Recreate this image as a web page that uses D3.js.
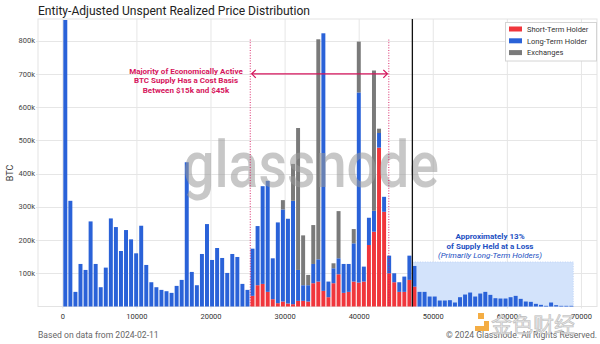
<!DOCTYPE html>
<html>
<head>
<meta charset="utf-8">
<script src="https://cdn.jsdelivr.net/npm/d3@7"></script>
<style>
  body { margin: 0; background: #fff; }
  svg { display: block; font-family: Roboto, "Liberation Sans", sans-serif; }
</style>
</head>
<body>
<svg id="chart"></svg>
<script>
// Supply per realized-price bin, thousands of BTC
const shortTerm = [
  0, 0, 0, 0, 0, 0, 0, 0, 0, 0, 0, 0, 0, 0, 0, 0, 0, 0, 0, 0,
  0, 0, 0, 0, 0, 0, 0, 0, 0, 0, 0, 0, 0, 0, 0, 0, 0,
  32, 64, 68, 44, 22, 10, 15, 9, 7, 17, 17, 15, 70, 75, 47, 28, 70, 97, 41, 44,
  75, 72, 75, 185, 225, 478, 285, 100, 73, 44, 44, 80, 60,
  0, 0, 0, 0, 0, 0, 0, 0, 0, 0, 0, 0, 0, 0, 0, 0, 0, 0, 0, 0,
  0, 0, 0, 0, 0, 0, 0, 0, 0, 0, 0
];
const longTerm = [
  862, 318, 44, 128, 110, 256, 128, 58, 117, 265, 239, 167, 230, 202, 160, 243, 125, 73, 58, 50,
  46, 41, 62, 80, 434, 104, 64, 158, 248, 140, 176, 146, 101, 158, 149, 68, 50,
  142, 178, 294, 334, 123, 243, 277, 255, 311, 93, 47, 49, 58, 67, 775, 47, 45, 48, 87, 84,
  115, 572, 45, 82, 63, 44, 45, 53, 27, 29, 46, 73, 62,
  44, 44, 30, 30, 18, 18, 19, 12, 28, 36, 42, 30, 39, 44, 35, 25, 24, 24, 28, 32,
  23, 15, 14, 8, 5, 2, 12, 4, 2, 2, 2
];
const exchanges = [
  0, 0, 0, 0, 0, 0, 0, 0, 0, 0, 0, 0, 0, 0, 0, 0, 0, 0, 0, 0,
  0, 0, 0, 0, 0, 0, 0, 0, 0, 0, 0, 0, 0, 0, 0, 0, 0,
  0, 0, 0, 0, 0, 0, 28, 0, 111, 427, 150, 31, 117, 662, 0, 0, 15, 142, 0, 0,
  43, 153, 0, 0, 422, 13, 0, 0, 0, 0, 0, 0, 0,
  0, 0, 0, 0, 0, 0, 0, 0, 0, 0, 0, 0, 0, 0, 0, 0, 0, 0, 0, 0,
  0, 0, 0, 0, 0, 0, 0, 0, 0, 0, 0
];
const binWidth = 683;   // USD per bin
const xTicks = [0, 10000, 20000, 30000, 40000, 50000, 60000, 70000];
const yTicks = [100000, 200000, 300000, 400000, 500000, 600000, 700000, 800000];
const seriesNames = ["Short-Term Holder", "Long-Term Holder", "Exchanges"];
const seriesColors = ["#f0363c", "#2a62d8", "#7a7a7a"];
const currentPrice = 47180;
const costBasisBand = [25300, 44000];
const costBasisArrowAt = 700000;
const lossZone = { from: 47180, to: 68900, top: 134000 };

const W = 600, H = 344;
const plot = { left: 38, right: 597, top: 19, bottom: 306.5 };

const svg = d3.select("#chart").attr("width", W).attr("height", H);

const x = d3.scaleLinear().domain([-3350, 72100]).range([plot.left, plot.right]);
const y = d3.scaleLinear().domain([0, 865000]).range([plot.bottom, plot.top]);

const rows = shortTerm.map((d, i) => ({
  price: i * binWidth,
  sth: d * 1000,
  lth: longTerm[i] * 1000,
  exch: exchanges[i] * 1000
}));
const keys = ["sth", "lth", "exch"];
const stacked = d3.stack().keys(keys)(rows);

// frame + grid
const grid = svg.append("g").attr("stroke", "#e6e6e6").attr("stroke-width", 1);
grid.selectAll(".gy").data(yTicks).join("line")
  .attr("x1", plot.left - 2).attr("x2", plot.right)
  .attr("y1", d => Math.round(y(d)) + 0.5).attr("y2", d => Math.round(y(d)) + 0.5);
grid.selectAll(".gx").data(xTicks).join("line")
  .attr("x1", d => x(d)).attr("x2", d => x(d))
  .attr("y1", plot.top).attr("y2", plot.bottom + 2);
svg.append("rect")
  .attr("x", plot.left).attr("y", plot.top)
  .attr("width", plot.right - plot.left).attr("height", plot.bottom - plot.top)
  .attr("fill", "none").attr("stroke", "#e3e3e3");

// loss zone shading
svg.append("rect")
  .attr("x", x(lossZone.from)).attr("y", y(lossZone.top))
  .attr("width", x(lossZone.to) - x(lossZone.from))
  .attr("height", y(0) - y(lossZone.top))
  .attr("fill", "#d3e3fb")
  .attr("stroke", "#b9d0f5").attr("stroke-dasharray", "1,1.5").attr("stroke-width", 0.8);

// stacked bars
const barW = x(binWidth) - x(0);
svg.append("g").selectAll("g").data(stacked).join("g")
  .attr("fill", (d, i) => seriesColors[i])
  .selectAll("rect").data(d => d).join("rect")
  .attr("x", d => x(d.data.price) + 0.5)
  .attr("width", barW - 1.1)
  .attr("y", d => y(d[1]))
  .attr("height", d => y(d[0]) - y(d[1]));

// watermark
svg.append("text")
  .attr("x", 183).attr("y", 187)
  .attr("textLength", 256).attr("lengthAdjust", "spacingAndGlyphs")
  .attr("font-size", 64).attr("font-weight", 500)
  .attr("fill", "#9a9a9a").attr("opacity", 0.55)
  .text("glassnode");

// axes labels
svg.append("g").selectAll("text").data(yTicks).join("text")
  .attr("x", 35).attr("y", d => y(d) + 2.7)
  .attr("text-anchor", "end").attr("font-size", 7.5).attr("fill", "#444")
  .text(d => d3.format("~s")(d).replace("k", "k"));
svg.append("g").selectAll("text").data(xTicks).join("text")
  .attr("x", d => x(d)).attr("y", 318.5)
  .attr("text-anchor", "middle").attr("font-size", 7.5).attr("fill", "#333")
  .text(d => d);
svg.append("text")
  .attr("transform", "translate(13,173) rotate(-90)")
  .attr("text-anchor", "middle").attr("font-size", 9).attr("fill", "#333")
  .text("BTC");

// current price marker
svg.append("line")
  .attr("x1", x(currentPrice)).attr("x2", x(currentPrice))
  .attr("y1", plot.top).attr("y2", plot.bottom)
  .attr("stroke", "#111").attr("stroke-width", 1.3);

// cost basis band
const crimson = "#d6145c";
svg.append("g").selectAll("line").data(costBasisBand).join("line")
  .attr("x1", d => x(d)).attr("x2", d => x(d))
  .attr("y1", y(800000) - 1).attr("y2", plot.bottom)
  .attr("stroke", crimson).attr("stroke-width", 0.9).attr("stroke-dasharray", "1,1.6");
const ay = y(costBasisArrowAt);
const ax0 = x(costBasisBand[0]) + 1.5, ax1 = x(costBasisBand[1]) - 1.5;
svg.append("line")
  .attr("x1", ax0).attr("x2", ax1).attr("y1", ay).attr("y2", ay)
  .attr("stroke", crimson).attr("stroke-width", 1.3);
svg.append("path")
  .attr("d", `M${ax0 + 4},${ay - 4}L${ax0},${ay}L${ax0 + 4},${ay + 4}M${ax1 - 4},${ay - 4}L${ax1},${ay}L${ax1 - 4},${ay + 4}`)
  .attr("fill", "none").attr("stroke", crimson).attr("stroke-width", 1.3);
svg.append("text")
  .attr("text-anchor", "middle").attr("font-size", 8).attr("font-weight", 700).attr("fill", crimson)
  .selectAll("tspan")
  .data(["Majority of Economically Active", "BTC Supply Has a Cost Basis", "Between $15k and $45k"])
  .join("tspan")
  .attr("x", 186).attr("y", (d, i) => 73.5 + i * 9.5)
  .text(d => d);

// loss zone note
const noteBlue = "#1c50c2";
const note = svg.append("text").attr("text-anchor", "middle").attr("fill", noteBlue).attr("font-size", 8);
note.append("tspan").attr("x", 490).attr("y", 239).attr("font-weight", 700).text("Approximately 13%");
note.append("tspan").attr("x", 490).attr("y", 248.7).attr("font-weight", 700).text("of Supply Held at a Loss");
note.append("tspan").attr("x", 490).attr("y", 258.3).attr("font-style", "italic").text("(Primarily Long-Term Holders)");

// legend
const legend = svg.append("g");
legend.append("rect")
  .attr("x", 505.5).attr("y", 22.5).attr("width", 91).attr("height", 38.5)
  .attr("fill", "#fff").attr("stroke", "#d4d4d4");
const item = legend.selectAll("g.item").data(seriesNames).join("g")
  .attr("transform", (d, i) => `translate(509,${29 + i * 11.8})`);
item.append("rect").attr("x", 0).attr("y", -2.5).attr("width", 13).attr("height", 5)
  .attr("fill", (d, i) => seriesColors[i]);
item.append("text").attr("x", 18).attr("y", 2.7)
  .attr("font-size", 7.5).attr("fill", "#333").text(d => d);

// title and footer
svg.append("text")
  .attr("x", 38).attr("y", 14.5)
  .attr("font-size", 12.5).attr("fill", "#222")
  .attr("textLength", 272).attr("lengthAdjust", "spacingAndGlyphs")
  .text("Entity-Adjusted Unspent Realized Price Distribution");
svg.append("text")
  .attr("x", 38).attr("y", 338)
  .attr("font-size", 8.6).attr("fill", "#666")
  .text("Based on data from 2024-02-11");
svg.append("text")
  .attr("x", 597).attr("y", 338).attr("text-anchor", "end")
  .attr("font-size", 8.6).attr("fill", "#666")
  .text("© 2024 Glassnode. All Rights Reserved.");

// publisher stamp
const stamp = svg.append("g").attr("opacity", 0.9);
stamp.append("path")
  .attr("d", "M478,313h6v6h-6zM484,321h5v10h-14v-5h9z")
  .attr("fill", "#f3a530");
stamp.append("text")
  .attr("x", 491).attr("y", 332)
  .attr("font-family", "'Noto Sans CJK SC', sans-serif")
  .attr("font-size", 21).attr("fill", "#e4e4e4")
  .attr("stroke", "#b5b5b5").attr("stroke-width", 0.6)
  .text("金色财经");
</script>
</body>
</html>
